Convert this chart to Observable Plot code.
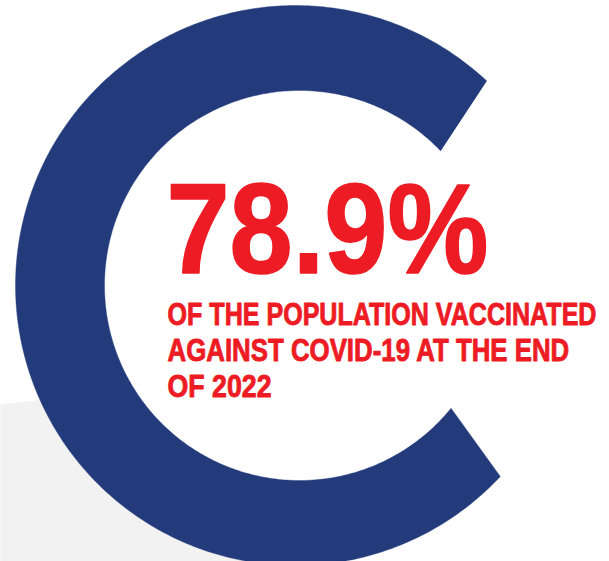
<!DOCTYPE html>
<html>
<head>
<meta charset="utf-8">
<script src="https://cdn.jsdelivr.net/npm/d3@7"></script>
<script src="https://cdn.jsdelivr.net/npm/@observablehq/plot@0.6"></script>
<style>
  html, body { margin: 0; padding: 0; background: #ffffff; }
  #chart svg { display: block; }
</style>
</head>
<body>
<div id="chart"></div>
<script>
// ---- Data ----
const headline = ["78.9%"];
const labelLines = ["OF THE POPULATION VACCINATED", "AGAINST COVID-19 AT THE END", "OF 2022"];

// ---- Geometry of the "C" ring (units: outer radius = 1) ----
const outerRing = { cx: 0, cy: 0, r: 1, from: 46.9, to: 317 };        // degrees, counter-clockwise
const innerRing = { cx: 0.0143, cy: 0, r: 0.6964, from: 321, to: 43.6 }; // degrees, clockwise back
const grayShape = [[-1.054, -0.425], [-0.893, -0.407], [-0.518, -0.661], [0.018, -0.911], [0.018, -0.986], [-1.054, -0.986]];

// ---- Styles ----
const navy = "#233a7b";
const red = "#ed1c24";
const gray = "#f2f2f2";
const W = 609, H = 561;
const pxPerUnit = 280;
const bigPos = { x: -0.461, y: 0.0464, size: 128, length: 322, stroke: 1.6 };
const subPos = { x: -0.457, y: -0.1393, step: 0.1286, size: 31, lengths: [429, 402, 104], stroke: 0.9 };

function arc(c, a0, a1, steps) {
  const pts = [];
  for (let i = 0; i <= steps; i++) {
    const a = (a0 + (a1 - a0) * i / steps) * Math.PI / 180;
    pts.push({ x: c.cx + c.r * Math.cos(a), y: c.cy + c.r * Math.sin(a) });
  }
  return pts;
}
const ring = [
  ...arc(outerRing, outerRing.from, outerRing.to, 360),
  ...arc(innerRing, innerRing.from, innerRing.to, 360)
];
const grayPts = grayShape.map(([x, y]) => ({ x, y }));
const labelRows = labelLines.map((t, i) => ({ text: t, line: i }));

const plot = Plot.plot({
  width: W,
  height: H,
  margin: 0,
  x: { domain: [-295 / pxPerUnit, (W - 295) / pxPerUnit], axis: null },
  y: { domain: [(285 - H) / pxPerUnit, 285 / pxPerUnit], axis: null },
  style: { background: "#ffffff" },
  marks: [
    Plot.line(grayPts, { x: "x", y: "y", fill: gray, stroke: "none", curve: "linear" }),
    Plot.line(ring, { x: "x", y: "y", fill: navy, stroke: navy, strokeWidth: 0.4, curve: "linear" }),
    Plot.text(headline, {
      x: () => bigPos.x, y: () => bigPos.y, text: d => d,
      textAnchor: "start", lineAnchor: "bottom",
      fill: red, stroke: red, strokeWidth: bigPos.stroke, fontSize: bigPos.size, fontWeight: "bold",
      fontFamily: "Liberation Sans, Arial, sans-serif", className: "big-num"
    }),
    Plot.text(labelRows, {
      x: () => subPos.x, y: d => subPos.y - d.line * subPos.step, text: "text",
      textAnchor: "start", lineAnchor: "bottom",
      fill: red, stroke: red, strokeWidth: subPos.stroke, fontSize: subPos.size, fontWeight: "bold",
      fontFamily: "Liberation Sans, Arial, sans-serif", className: "sub-label"
    })
  ]
});

document.getElementById("chart").appendChild(plot);

// Condense texts horizontally to the reference widths
function condense(t, target) {
  const natural = t.getComputedTextLength();
  if (!natural) return;
  const s = target / natural;
  const tr = t.getAttribute("transform");
  if (tr) {
    t.setAttribute("transform", `${tr} scale(${s},1)`);
  } else {
    const x = +t.getAttribute("x") || 0;
    t.setAttribute("transform", `translate(${x},0) scale(${s},1) translate(${-x},0)`);
  }
}
plot.querySelectorAll(".big-num text").forEach(t => condense(t, bigPos.length));
plot.querySelectorAll(".sub-label text").forEach((t, i) => condense(t, subPos.lengths[i]));
</script>
</body>
</html>
